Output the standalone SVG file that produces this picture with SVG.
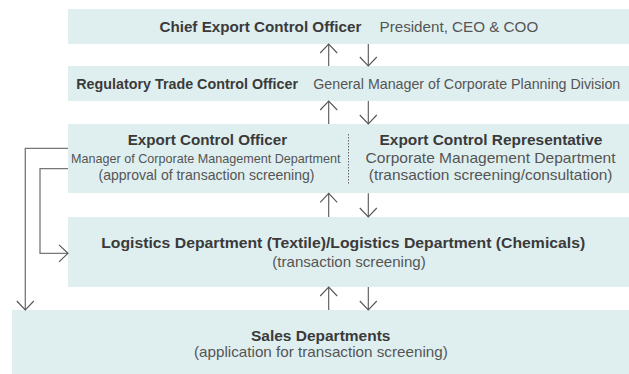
<svg xmlns="http://www.w3.org/2000/svg" width="629" height="374" viewBox="0 0 629 374">
<defs>
<style>
.box{fill:#dfeff0}
.b{font-family:"Liberation Sans",Arial,sans-serif;font-weight:700;font-size:15px;fill:#3a3a3a}
.r{font-family:"Liberation Sans",Arial,sans-serif;font-size:14.5px;fill:#555}
.s{font-size:13.5px}
.m{text-anchor:middle}
.ln{fill:none;stroke:#555;stroke-width:1.1}
.sl{fill:none;stroke:#777;stroke-width:1.3}
.dot{fill:none;stroke:#666;stroke-width:1;stroke-dasharray:1.5 1.5}
</style>
<marker id="ah" viewBox="-10 -10 20 20" markerWidth="20" markerHeight="20" refX="0" refY="0" orient="auto" markerUnits="userSpaceOnUse">
<path d="M-9,-8.5 L0,0 L-9,8.5" fill="none" stroke="#555" stroke-width="1.1"/>
</marker>
</defs>
<rect width="629" height="374" fill="#fff"/>
<g id="chief">
<rect class="box" x="68" y="9" width="561" height="35"/>
<text class="b" x="159.4" y="31.7" textLength="202" lengthAdjust="spacingAndGlyphs">Chief Export Control Officer</text>
<text class="r" x="379.5" y="31.7" textLength="158.7" lengthAdjust="spacingAndGlyphs">President, CEO &amp; COO</text>
</g>
<g id="regulatory">
<rect class="box" x="68" y="66" width="561" height="35"/>
<text class="b" x="76.3" y="89" textLength="221.7" lengthAdjust="spacingAndGlyphs">Regulatory Trade Control Officer</text>
<text class="r" x="313.3" y="89" textLength="307" lengthAdjust="spacingAndGlyphs">General Manager of Corporate Planning Division</text>
</g>
<g id="export">
<rect class="box" x="68" y="124" width="561" height="69"/>
<line class="dot" x1="348.5" y1="134" x2="348.5" y2="184"/>
<text class="b m" x="207.4" y="145" textLength="159.4" lengthAdjust="spacingAndGlyphs">Export Control Officer</text>
<text class="r s m" x="205.8" y="162.7" textLength="269.5" lengthAdjust="spacingAndGlyphs">Manager of Corporate Management Department</text>
<text class="r m" x="206.5" y="180" textLength="216" lengthAdjust="spacingAndGlyphs">(approval of transaction screening)</text>
<text class="b m" x="491" y="145" textLength="222.9" lengthAdjust="spacingAndGlyphs">Export Control Representative</text>
<text class="r m" x="490.6" y="163" textLength="250" lengthAdjust="spacingAndGlyphs">Corporate Management Department</text>
<text class="r m" x="490.6" y="180" textLength="243.7" lengthAdjust="spacingAndGlyphs">(transaction screening/consultation)</text>
</g>
<g id="logistics">
<rect class="box" x="68" y="217" width="561" height="70"/>
<text class="b m" x="343.2" y="247.5" textLength="484" lengthAdjust="spacingAndGlyphs">Logistics Department (Textile)/Logistics Department (Chemicals)</text>
<text class="r m" x="349" y="267" textLength="153.4" lengthAdjust="spacingAndGlyphs">(transaction screening)</text>
</g>
<g id="sales">
<rect class="box" x="12" y="310" width="617" height="64"/>
<text class="b m" x="320.7" y="340.5" textLength="139.4" lengthAdjust="spacingAndGlyphs">Sales Departments</text>
<text class="r m" x="320.9" y="357" textLength="253.8" lengthAdjust="spacingAndGlyphs">(application for transaction screening)</text>
</g>
<g id="connectors">
<line class="ln" x1="328.7" y1="66" x2="328.7" y2="44" marker-end="url(#ah)"/>
<line class="ln" x1="368.3" y1="44" x2="368.3" y2="66" marker-end="url(#ah)"/>
<line class="ln" x1="328.7" y1="124" x2="328.7" y2="101" marker-end="url(#ah)"/>
<line class="ln" x1="368.3" y1="101" x2="368.3" y2="124" marker-end="url(#ah)"/>
<line class="ln" x1="328.7" y1="217" x2="328.7" y2="193.3" marker-end="url(#ah)"/>
<line class="ln" x1="368.3" y1="193.3" x2="368.3" y2="217" marker-end="url(#ah)"/>
<line class="ln" x1="328.7" y1="310" x2="328.7" y2="287" marker-end="url(#ah)"/>
<line class="ln" x1="368.3" y1="287" x2="368.3" y2="310" marker-end="url(#ah)"/>
<path class="sl" d="M68,148.3 H25.3 V310" marker-end="url(#ah)"/>
<path class="sl" d="M68,168.7 H40 V253.3 H68" marker-end="url(#ah)"/>
</g>
</svg>
